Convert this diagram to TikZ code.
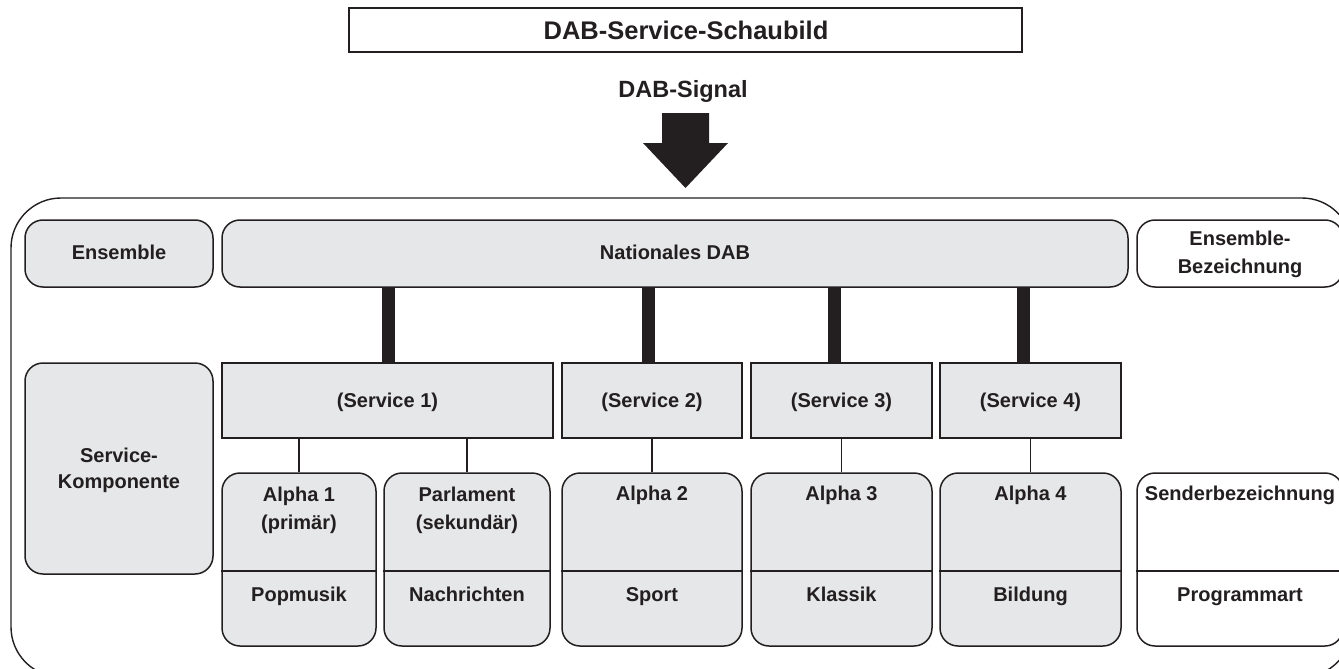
\documentclass[tikz,border=0pt]{standalone}
\usepackage{fontspec}
\setmainfont{Liberation Sans}
\definecolor{lc}{HTML}{231F20}
\definecolor{gfill}{HTML}{E6E7E8}
\begin{document}
\begin{tikzpicture}[x=1pt,y=-1pt,
  box/.style={draw=lc, line width=1.5pt, fill=gfill, inner sep=0pt},
  sbox/.style={box, minimum height=75pt},
  rbox/.style={box, rounded corners=18pt},
  wbox/.style={rbox, fill=white},
  lbl/.style={font=\bfseries\fontsize{20}{27}\selectfont, text=lc, inner sep=0pt, anchor=base},
  thickconn/.style={draw=lc, line width=13pt},
  thinconn/.style={draw=lc, line width=1.6pt},
  divider/.style={draw=lc, line width=1.5pt},
]
\useasboundingbox (0,0) rectangle (1339,669);
% outer frame
\draw[draw=lc, line width=1.4pt, rounded corners=50pt] (11,198) rectangle (1352,677);
% title
\node[draw=lc, line width=1.2pt, minimum width=673pt, minimum height=44pt, inner sep=0pt] (titlebox) at (685.5,30) {};
\node[lbl, font=\bfseries\fontsize{25.5}{30}\selectfont] (title) at (686,40) {DAB-Service-Schaubild};
\node[lbl, font=\bfseries\fontsize{23.5}{28}\selectfont] (signal) at (683,97) {DAB-Signal};
% big arrow
\fill[lc] (662,113) -- (709,113) -- (709,143) -- (728,143) -- (685.5,188) -- (643,143) -- (662,143) -- cycle;

% top row
\node[rbox, minimum width=188pt, minimum height=67pt] (ens) at (119,253.5) {};
\node[rbox, minimum width=906pt, minimum height=67pt] (nat) at (675,253.5) {};
\node[wbox, minimum width=206pt, minimum height=67pt] (ensb) at (1240,253.5) {};
\node[lbl] (ensT) at (119,259.5) {Ensemble};
\node[lbl] (natT) at (675,259.5) {Nationales DAB};
\node[lbl] (ensbT1) at (1240,245) {Ensemble-};
\node[lbl] (ensbT2) at (1240,273) {Bezeichnung};

% service row
\node[rbox, minimum width=188pt, minimum height=211pt] (sk) at (119,468.5) {};
\node[lbl] (skT1) at (119,462) {Service-};
\node[lbl] (skT2) at (119,488) {Komponente};
\node[sbox, minimum width=331pt] (s1) at (387.5,400.5) {};
\node[sbox, minimum width=180pt] (s2) at (652,400.5) {};
\node[sbox, minimum width=181pt] (s3) at (841.5,400.5) {};
\node[sbox, minimum width=181pt] (s4) at (1030.5,400.5) {};
\node[lbl] (s1T) at (387.5,407.5) {(Service 1)};
\node[lbl] (s2T) at (652,407.5) {(Service 2)};
\node[lbl] (s3T) at (841.5,407.5) {(Service 3)};
\node[lbl] (s4T) at (1030.5,407.5) {(Service 4)};

% thick connectors
\coordinate (c1) at (388,287);
\coordinate (c2) at (648,287);
\coordinate (c3) at (834,287);
\coordinate (c4) at (1023,287);
\draw[thickconn] (c1) -- (c1 |- s1.north);
\draw[thickconn] (c2) -- (c2 |- s2.north);
\draw[thickconn] (c3) -- (c3 |- s3.north);
\draw[thickconn] (c4) -- (c4 |- s4.north);

% component row
\node[rbox, minimum width=154pt, minimum height=173pt] (a1) at (299,559.5) {};
\node[rbox, minimum width=166pt, minimum height=173pt] (pa) at (467,559.5) {};
\node[rbox, minimum width=180pt, minimum height=173pt] (a2) at (652,559.5) {};
\node[rbox, minimum width=181pt, minimum height=173pt] (a3) at (841.5,559.5) {};
\node[rbox, minimum width=181pt, minimum height=173pt] (a4) at (1030.5,559.5) {};
\node[wbox, minimum width=206pt, minimum height=173pt] (sb) at (1240,559.5) {};
\foreach \n in {a1,pa,a2,a3,a4,sb}{
  \draw[divider] (\n.west |- 0,571) -- (\n.east |- 0,571);
}
\node[lbl] (a1T1) at (299,501) {Alpha 1};
\node[lbl] (a1T2) at (299,529) {(primär)};
\node[lbl] (paT1) at (467,501) {Parlament};
\node[lbl] (paT2) at (467,529) {(sekundär)};
\node[lbl] (a2T) at (652,500.5) {Alpha 2};
\node[lbl] (a3T) at (841.5,500.5) {Alpha 3};
\node[lbl] (a4T) at (1030.5,500.5) {Alpha 4};
\node[lbl] (sbT) at (1240,500.5) {Senderbezeichnung};
\node[lbl] (a1B) at (299,601.5) {Popmusik};
\node[lbl] (paB) at (467,601.5) {Nachrichten};
\node[lbl] (a2B) at (652,601.5) {Sport};
\node[lbl] (a3B) at (841.5,601.5) {Klassik};
\node[lbl] (a4B) at (1030.5,601.5) {Bildung};
\node[lbl] (sbB) at (1240,601.5) {Programmart};

% thin connectors
\draw[thinconn] (a1.north) -- (a1.north |- s1.south);
\draw[thinconn] (pa.north) -- (pa.north |- s1.south);
\draw[thinconn] (a2.north) -- (s2.south);
\draw[thinconn] (a3.north) -- (s3.south);
\draw[thinconn] (a4.north) -- (s4.south);
\end{tikzpicture}
\end{document}
